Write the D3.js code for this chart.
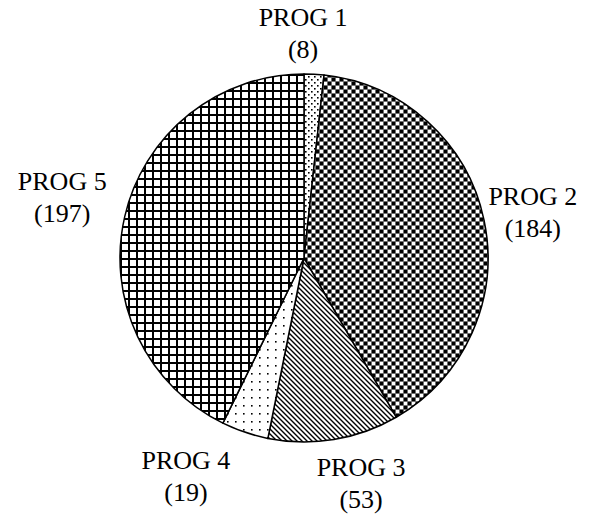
<!DOCTYPE html>
<html>
<head>
<meta charset="utf-8">
<script src="https://cdn.jsdelivr.net/npm/d3@7"></script>
<style>
  body { margin: 0; background: #fff; }
</style>
</head>
<body>
<div id="chart"></div>
<script>
// datos del grafico
var programs = ['PROG 1', 'PROG 2', 'PROG 3', 'PROG 4', 'PROG 5'];
var counts = [8, 184, 53, 19, 197];

var width = 606;
var height = 515;
var cx = 304, cy = 258, radius = 184;

var svg = d3.select('#chart')
    .append('svg')
    .attr('width', width)
    .attr('height', height);

var defs = svg.append('defs');

// PROG 1: puntos densos
var p1 = defs.append('pattern').attr('id', 'pat0').attr('patternUnits', 'userSpaceOnUse')
    .attr('width', 6).attr('height', 6);
p1.append('rect').attr('width', 6).attr('height', 6).attr('fill', '#fff');
p1.append('rect').attr('x', 1).attr('y', 1).attr('width', 1.6).attr('height', 1.6).attr('fill', '#000');
p1.append('rect').attr('x', 4).attr('y', 4).attr('width', 1.6).attr('height', 1.6).attr('fill', '#000');

// PROG 2: damero fino
var p2 = defs.append('pattern').attr('id', 'pat1').attr('patternUnits', 'userSpaceOnUse')
    .attr('width', 8).attr('height', 8);
p2.append('rect').attr('width', 8).attr('height', 8).attr('fill', '#6e6e6e');
p2.append('rect').attr('x', 0).attr('y', 0).attr('width', 3).attr('height', 3).attr('fill', '#000');
p2.append('rect').attr('x', 4).attr('y', 0).attr('width', 3).attr('height', 3).attr('fill', '#fff');
p2.append('rect').attr('x', 0).attr('y', 4).attr('width', 3).attr('height', 3).attr('fill', '#fff');
p2.append('rect').attr('x', 4).attr('y', 4).attr('width', 3).attr('height', 3).attr('fill', '#000');

// PROG 3: diagonales
var p3 = defs.append('pattern').attr('id', 'pat2').attr('patternUnits', 'userSpaceOnUse')
    .attr('width', 5).attr('height', 5);
p3.append('rect').attr('width', 5).attr('height', 5).attr('fill', '#fff');
p3.append('path').attr('d', 'M-1,-1 L6,6 M-1,4 L1,6 M4,-1 L6,1')
    .attr('stroke', '#000').attr('stroke-width', 1.4);

// PROG 4: puntos dispersos
var p4 = defs.append('pattern').attr('id', 'pat3').attr('patternUnits', 'userSpaceOnUse')
    .attr('width', 8).attr('height', 8);
p4.append('rect').attr('width', 8).attr('height', 8).attr('fill', '#fff');
p4.append('rect').attr('x', 3).attr('y', 3).attr('width', 1.6).attr('height', 1.6).attr('fill', '#000');

// PROG 5: cuadricula
var p5 = defs.append('pattern').attr('id', 'pat4').attr('patternUnits', 'userSpaceOnUse')
    .attr('width', 8).attr('height', 8);
p5.append('rect').attr('width', 8).attr('height', 8).attr('fill', '#fff');
p5.append('rect').attr('x', 0).attr('y', 0).attr('width', 8).attr('height', 2).attr('fill', '#000');
p5.append('rect').attr('x', 0).attr('y', 0).attr('width', 2).attr('height', 8).attr('fill', '#000');

var data = programs.map(function(p, i) { return { name: p, value: counts[i], idx: i }; });

var pie = d3.pie().sort(null).value(function(d) { return d.value; });
var arcs = pie(data);

var arc = d3.arc().innerRadius(0).outerRadius(radius);
var labelArc = d3.arc().innerRadius(240).outerRadius(240);

var g = svg.append('g').attr('transform', 'translate(' + cx + ',' + cy + ')');

g.selectAll('path')
    .data(arcs)
    .enter()
    .append('path')
    .attr('d', arc)
    .attr('fill', function(d) { return 'url(#pat' + d.data.idx + ')'; })
    .attr('stroke', '#000')
    .attr('stroke-width', 1.5)
    .attr('stroke-linejoin', 'round');

// ajustes de etiquetas (px)
var nudge = [[-14, 17], [-6, 6], [18, -10], [-41, -7], [-8, -5]];

var labels = g.selectAll('text.lbl')
    .data(arcs)
    .enter()
    .append('text')
    .attr('class', 'lbl')
    .attr('text-anchor', 'middle')
    .attr('font-family', '"Liberation Serif", "Times New Roman", serif')
    .attr('font-size', 26)
    .attr('fill', '#000')
    .attr('transform', function(d) {
        var c = labelArc.centroid(d);
        var n = nudge[d.data.idx];
        return 'translate(' + (c[0] + n[0]) + ',' + (c[1] + n[1]) + ')';
    });

labels.append('tspan').attr('x', 0).attr('y', -9).text(function(d) { return d.data.name; });
labels.append('tspan').attr('x', 0).attr('y', 23).text(function(d) { return '(' + d.data.value + ')'; });
</script>
</body>
</html>
